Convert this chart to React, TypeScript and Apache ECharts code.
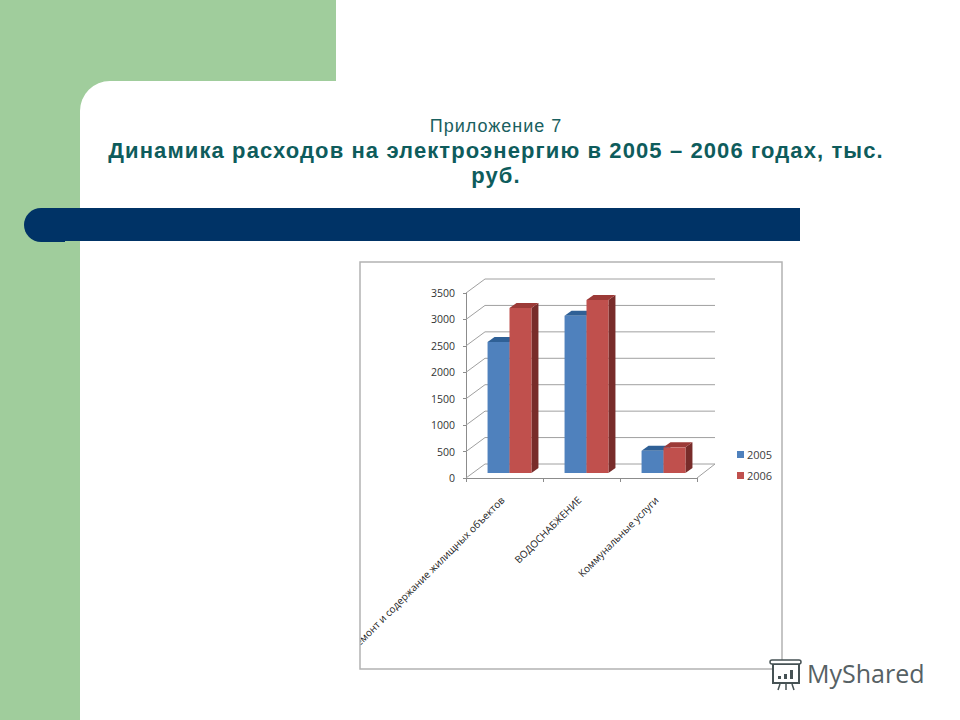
import React, { useEffect, useRef } from "react";
import * as echarts from "echarts";

const categories = ["Ремонт и содержание жилищных объектов", "ВОДОСНАБЖЕНИЕ", "Коммунальные услуги"];
const values2005 = [2480, 2975, 420];
const values2006 = [3120, 3275, 485];
const yTicks = [0, 500, 1000, 1500, 2000, 2500, 3000, 3500];
const titleLines = ["Приложение 7", "Динамика расходов на электроэнергию в 2005 – 2006 годах, тыс.", "руб."];

const BACK_DX = 19, BACK_DY = 14, FLOOR_DY = 5, SHIFT = 5, DEPTH_X = 7, DEPTH_Y = 5;
const GRID_COLOR = "#a0a0a0";
const GREEN = "#a0cd9c";
const TEAL = "#0e5c5c";

const renderWall = (params: any, api: any) => {
  const c = params.coordSys;
  const y = api.coord([0, api.value(0)])[1];
  const xl = c.x, xr = c.x + c.width;
  const s = { stroke: GRID_COLOR, lineWidth: 1, fill: "none" };
  const kids: any[] = [
    { type: "line", shape: { x1: xl, y1: y, x2: xl + BACK_DX, y2: y - BACK_DY }, style: s },
    { type: "line", shape: { x1: xl + BACK_DX, y1: y - BACK_DY, x2: xr + BACK_DX - 1, y2: y - BACK_DY }, style: s },
  ];
  if (api.value(0) === 0) {
    kids.push({ type: "line", shape: { x1: xr, y1: y, x2: xr + BACK_DX - 1, y2: y - BACK_DY }, style: s });
  }
  return { type: "group", children: kids };
};

const makeBar = (front: string, top: string, side: string, seriesIdx: number) => (_p: any, api: any) => {
  const idx = api.value(0);
  const cx = api.coord([idx, 0])[0];
  const y0 = api.coord([idx, 0])[1] - FLOOR_DY;
  const yv = api.coord([idx, api.value(1)])[1] - FLOOR_DY;
  const w = api.size([1, 0])[0] * 0.285;
  const x = cx + SHIFT + (seriesIdx - 1) * w;
  return {
    type: "group",
    children: [
      { type: "polygon", shape: { points: [[x + w, yv], [x + w + DEPTH_X, yv - DEPTH_Y], [x + w + DEPTH_X, y0 - DEPTH_Y], [x + w, y0]] }, style: { fill: side } },
      { type: "polygon", shape: { points: [[x, yv], [x + DEPTH_X, yv - DEPTH_Y], [x + w + DEPTH_X, yv - DEPTH_Y], [x + w, yv]] }, style: { fill: top } },
      { type: "rect", shape: { x, y: yv, width: w, height: y0 - yv }, style: { fill: front } },
    ],
  };
};

const logoInk = "#465254";
const logo = [
  { type: "rect", z: 110, shape: { x: 773, y: 664, width: 26, height: 19 }, style: { fill: "#fff", stroke: logoInk, lineWidth: 2 } },
  { type: "rect", z: 110, shape: { x: 770, y: 660, width: 31, height: 4, r: 2 }, style: { fill: "#fff", stroke: logoInk, lineWidth: 1.5 } },
  { type: "rect", z: 111, shape: { x: 778, y: 676, width: 3, height: 3 }, style: { fill: logoInk } },
  { type: "rect", z: 111, shape: { x: 784, y: 674, width: 3, height: 5 }, style: { fill: logoInk } },
  { type: "rect", z: 111, shape: { x: 790, y: 670, width: 3, height: 9 }, style: { fill: logoInk } },
  { type: "line", z: 110, shape: { x1: 780, y1: 684, x2: 778, y2: 690 }, style: { stroke: logoInk, lineWidth: 1.5 } },
  { type: "line", z: 110, shape: { x1: 786, y1: 684, x2: 786, y2: 690 }, style: { stroke: logoInk, lineWidth: 1.5 } },
  { type: "line", z: 110, shape: { x1: 792, y1: 684, x2: 794, y2: 690 }, style: { stroke: logoInk, lineWidth: 1.5 } },
  { type: "text", z: 110, x: 807, y: 660, style: { text: "MyShared", fill: "#566164", font: "25px 'Open Sans'" } },
];

export default function App() {
  const ref = useRef<HTMLDivElement>(null);
  useEffect(() => {
    const chart = echarts.init(ref.current!, undefined, { renderer: "svg" });
    chart.setOption({
      animation: false,
      backgroundColor: "#ffffff",
      title: [
        { text: titleLines[0], left: 491, top: 112, textAlign: "center", textStyle: { color: "#1a6060", fontFamily: "Liberation Sans", fontSize: 18, fontWeight: "normal" } },
        { text: titleLines[1], left: 491, top: 134, textAlign: "center", textStyle: { color: TEAL, fontFamily: "Liberation Sans", fontSize: 22, fontWeight: "bold" } },
        { text: titleLines[2], left: 491, top: 159, textAlign: "center", textStyle: { color: TEAL, fontFamily: "Liberation Sans", fontSize: 22, fontWeight: "bold" } },
      ],
      grid: { left: 466, right: 263, top: 293, bottom: 242, containLabel: false },
      legend: {
        data: ["2005", "2006"], orient: "vertical", left: 732, top: 444, itemWidth: 7, itemHeight: 7, itemGap: 10, icon: "rect",
        textStyle: { fontFamily: "Open Sans", fontSize: 11, color: "#404040", padding: [0, 0, 0, -2] },
      },
      xAxis: {
        type: "category", data: categories,
        axisLine: { lineStyle: { color: "#8c8c8c", width: 1 } },
        axisTick: { show: true, alignWithLabel: false, length: 4, lineStyle: { color: "#8c8c8c" } },
        axisLabel: { rotate: 45, interval: 0, margin: 18, padding: [0, 3, 0, 0], fontFamily: "Open Sans", fontSize: 10, color: "#222" },
      },
      yAxis: {
        type: "value", min: 0, max: 3500, interval: 500,
        splitLine: { show: false },
        axisLine: { show: true, lineStyle: { color: "#8c8c8c", width: 1 } },
        axisTick: { show: true, length: 3, lineStyle: { color: "#8c8c8c" } },
        axisLabel: { margin: 11, padding: [3, 0, 0, 0], fontFamily: "Open Sans", fontSize: 10.5, color: "#333", formatter: (v: number) => String(v) },
      },
      series: [
        { type: "custom", name: "walls", silent: true, z: 1, clip: false, renderItem: renderWall, data: yTicks.map((v) => [v]), encode: { y: 0 }, tooltip: { show: false } },
        { type: "custom", name: "2005", z: 3, clip: false, itemStyle: { color: "#4f81bd" }, renderItem: makeBar("#4f81bd", "#2f6096", "#2c5a8f", 0), data: values2005.map((v, i) => [i, v]), encode: { x: 0, y: 1 } },
        { type: "custom", name: "2006", z: 4, clip: false, itemStyle: { color: "#c0504d" }, renderItem: makeBar("#c0504d", "#9c3a37", "#782c2a", 1), data: values2006.map((v, i) => [i, v]), encode: { x: 0, y: 1 } },
      ],
      graphic: [
        { type: "rect", z: -10, shape: { x: 0, y: 0, width: 80, height: 720 }, style: { fill: GREEN } },
        { type: "rect", z: -10, shape: { x: 0, y: 0, width: 336, height: 81 }, style: { fill: GREEN } },
        { type: "rect", z: -10, shape: { x: 80, y: 81, width: 32, height: 32 }, style: { fill: GREEN } },
        { type: "rect", z: -9, shape: { x: 80, y: 81, width: 300, height: 100, r: [30, 0, 0, 0] }, style: { fill: "#fff" } },
        { type: "rect", z: -8, shape: { x: 60, y: 208, width: 740, height: 33 }, style: { fill: "#003366" } },
        { type: "rect", z: -8, shape: { x: 24, y: 208, width: 41, height: 34, r: [17, 0, 0, 17] }, style: { fill: "#003366" } },
        { type: "rect", z: 100, shape: { x: 82, y: 560, width: 278, height: 120 }, style: { fill: "#fff" } },
        { type: "rect", z: 101, shape: { x: 360, y: 262, width: 422, height: 407 }, style: { fill: "none", stroke: "#b3b3b3", lineWidth: 1.5 } },
        ...logo,
      ],
    });
    // ECharts text has no letter-spacing option; the title lines of the reference are tracked out.
    ref.current!.querySelectorAll("text").forEach((t) => {
      const i = titleLines.indexOf(t.textContent || "");
      if (i >= 0) (t as SVGTextElement).style.letterSpacing = i === 0 ? "1px" : "1.1px";
    });
    return () => chart.dispose();
  }, []);
  return <div ref={ref} style={{ position: "fixed", left: 0, top: 0, width: 960, height: 720 }} />;
}
